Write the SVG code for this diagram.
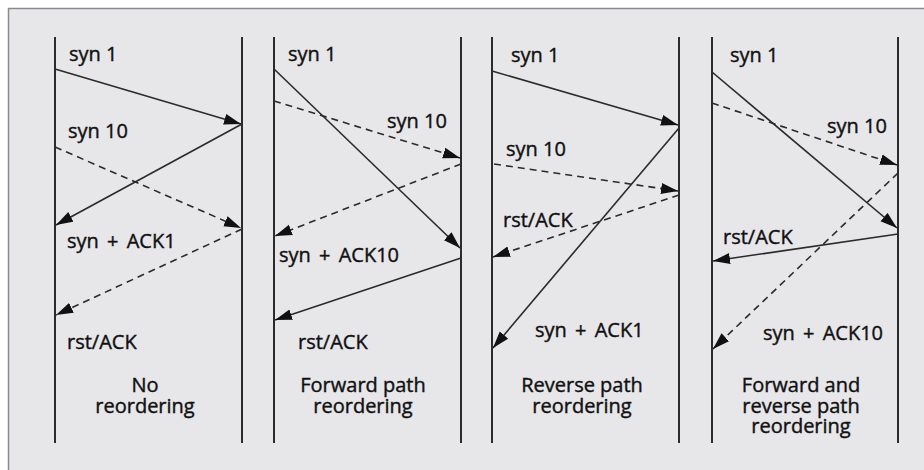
<svg xmlns="http://www.w3.org/2000/svg" width="924" height="470" viewBox="0 0 924 470">
  <defs>
    <marker id="head" markerUnits="userSpaceOnUse" markerWidth="17" markerHeight="12" refX="17" refY="6" orient="auto">
      <path d="M0,0.5 L17,6 L0,11.5 z" fill="#111"/>
    </marker>
    <style>
      .bg { fill: #e7e6e9; stroke: #8a8a8a; stroke-width: 1.5; }
      .life { stroke: #2b2b2b; stroke-width: 2; fill: none; }
      .msg { stroke: #2b2b2b; stroke-width: 1.6; fill: none; marker-end: url(#head); }
      .dash { stroke-dasharray: 7 5; }
      text { font-family: "Open Sans", "Noto Sans", "DejaVu Sans", sans-serif; font-size: 20px; fill: #111; stroke: #111; stroke-width: 0.4px; }
      .lbl { word-spacing: 3px; }
      .cap { text-anchor: middle; }
    </style>
  </defs>

  <rect class="bg" x="8.5" y="8.5" width="930" height="480"/>

  <!-- lifelines: one pair per scenario -->
  <g id="lifelines">
    <line class="life" x1="55" y1="37" x2="55" y2="443"/>
    <line class="life" x1="242" y1="37" x2="242" y2="443"/>
    <line class="life" x1="274" y1="37" x2="274" y2="443"/>
    <line class="life" x1="461" y1="37" x2="461" y2="443"/>
    <line class="life" x1="492" y1="37" x2="492" y2="443"/>
    <line class="life" x1="679" y1="37" x2="679" y2="443"/>
    <line class="life" x1="712" y1="37" x2="712" y2="443"/>
    <line class="life" x1="898" y1="37" x2="898" y2="443"/>
  </g>

  <!-- messages -->
  <g id="connectors">
    <!-- no reordering -->
    <line class="msg" x1="55" y1="69" x2="241" y2="124"/>
    <line class="msg dash" x1="55" y1="147" x2="241" y2="228"/>
    <line class="msg" x1="242" y1="124" x2="56" y2="225"/>
    <line class="msg dash" x1="242" y1="229" x2="56" y2="315"/>
    <!-- forward path reordering -->
    <line class="msg" x1="274" y1="69" x2="460" y2="248"/>
    <line class="msg dash" x1="274" y1="101" x2="460" y2="158"/>
    <line class="msg dash" x1="461" y1="164" x2="275" y2="236"/>
    <line class="msg" x1="461" y1="258" x2="275" y2="320"/>
    <!-- reverse path reordering -->
    <line class="msg" x1="492" y1="71" x2="678" y2="125"/>
    <line class="msg dash" x1="494" y1="164" x2="678" y2="191"/>
    <line class="msg" x1="679" y1="128" x2="493" y2="348"/>
    <line class="msg dash" x1="679" y1="195" x2="493" y2="257"/>
    <!-- forward and reverse path reordering -->
    <line class="msg" x1="712" y1="72" x2="897" y2="228"/>
    <line class="msg dash" x1="712" y1="103" x2="897" y2="165"/>
    <line class="msg dash" x1="898" y1="173" x2="713" y2="349"/>
    <line class="msg" x1="898" y1="234" x2="713" y2="261"/>
  </g>

  <g id="scenario-none">
    <text x="69" y="61">syn 1</text>
    <text x="68" y="138">syn 10</text>
    <text class="lbl" x="67" y="248">syn + ACK1</text>
    <text x="67" y="349">rst/ACK</text>
    <text class="cap" x="145" y="392">No<tspan x="145" dy="21">reordering</tspan></text>
  </g>

  <g id="scenario-forward">
    <text x="288" y="61">syn 1</text>
    <text x="387" y="128">syn 10</text>
    <text class="lbl" x="279" y="262">syn + ACK10</text>
    <text x="298" y="349">rst/ACK</text>
    <text class="cap" x="363" y="392">Forward path<tspan x="363" dy="21">reordering</tspan></text>
  </g>

  <g id="scenario-reverse">
    <text x="511" y="62">syn 1</text>
    <text x="506" y="156">syn 10</text>
    <text x="503" y="227">rst/ACK</text>
    <text class="lbl" x="535" y="337">syn + ACK1</text>
    <text class="cap" x="582" y="392">Reverse path<tspan x="582" dy="21">reordering</tspan></text>
  </g>

  <g id="scenario-both">
    <text x="730" y="62">syn 1</text>
    <text x="827" y="133">syn 10</text>
    <text x="723" y="244">rst/ACK</text>
    <text class="lbl" x="763" y="340">syn + ACK10</text>
    <text class="cap" x="801" y="392">Forward and<tspan x="801" dy="21">reverse path</tspan><tspan x="801" dy="20">reordering</tspan></text>
  </g>
</svg>
